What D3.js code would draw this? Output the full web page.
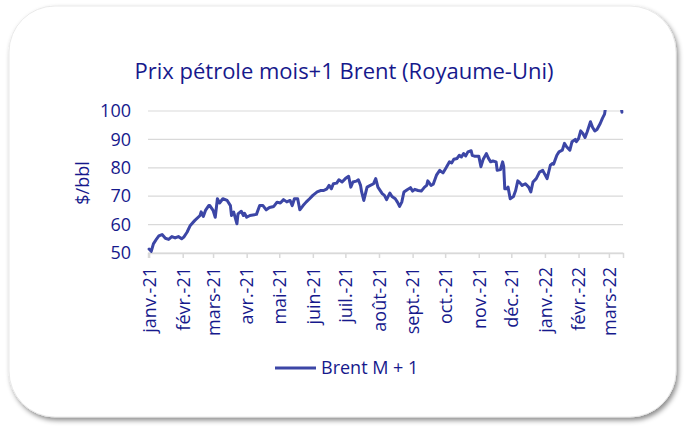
<!DOCTYPE html>
<html>
<head>
<meta charset="utf-8">
<script src="https://cdn.jsdelivr.net/npm/d3@7"></script>
<style>
  body { margin: 0; background: #fff; }
  svg { display: block; }
</style>
</head>
<body>
<div id="chart"></div>
<script>
// Brent M+1, daily-ish readings ($/bbl)
var dates = [
  "2021-01-04","2021-01-06","2021-01-08","2021-01-11","2021-01-13","2021-01-16","2021-01-19","2021-01-22",
  "2021-01-25","2021-01-28","2021-01-31","2021-02-03","2021-02-05","2021-02-08","2021-02-11","2021-02-15",
  "2021-02-20","2021-02-21","2021-02-23","2021-02-25","2021-02-28","2021-03-01","2021-03-04","2021-03-06",
  "2021-03-08","2021-03-10","2021-03-13","2021-03-17","2021-03-20","2021-03-21","2021-03-23","2021-03-26",
  "2021-03-27","2021-03-30","2021-04-01","2021-04-02","2021-04-04","2021-04-07","2021-04-13","2021-04-16",
  "2021-04-19","2021-04-22","2021-04-25","2021-04-29","2021-05-02","2021-05-05","2021-05-08","2021-05-11",
  "2021-05-14","2021-05-16","2021-05-18","2021-05-21","2021-05-23","2021-05-26","2021-05-29","2021-06-01",
  "2021-06-04","2021-06-08","2021-06-11","2021-06-14","2021-06-17","2021-06-19","2021-06-21","2021-06-23",
  "2021-06-26","2021-06-28","2021-07-01","2021-07-04","2021-07-07","2021-07-09","2021-07-11","2021-07-14",
  "2021-07-16","2021-07-18","2021-07-19","2021-07-21","2021-07-24","2021-07-27","2021-07-30","2021-08-01",
  "2021-08-03","2021-08-07","2021-08-09","2021-08-11","2021-08-14","2021-08-16","2021-08-19","2021-08-21",
  "2021-08-23","2021-08-25","2021-08-27","2021-08-30","2021-09-02","2021-09-04","2021-09-06","2021-09-09",
  "2021-09-12","2021-09-15","2021-09-17","2021-09-18","2021-09-21","2021-09-23","2021-09-26","2021-09-29",
  "2021-10-02","2021-10-05","2021-10-08","2021-10-10","2021-10-12","2021-10-15","2021-10-17","2021-10-19",
  "2021-10-21","2021-10-23","2021-10-25","2021-10-28","2021-10-29","2021-10-31","2021-11-04","2021-11-06",
  "2021-11-08","2021-11-11","2021-11-13","2021-11-15","2021-11-17","2021-11-20","2021-11-21","2021-11-24",
  "2021-11-26","2021-11-27","2021-11-28","2021-11-30","2021-12-01","2021-12-03","2021-12-06","2021-12-08",
  "2021-12-10","2021-12-12","2021-12-14","2021-12-17","2021-12-20","2021-12-22","2021-12-24","2021-12-27",
  "2021-12-30","2022-01-02","2022-01-06","2022-01-09","2022-01-11","2022-01-12","2022-01-15","2022-01-17",
  "2022-01-20","2022-01-22","2022-01-24","2022-01-27","2022-01-29","2022-02-01","2022-02-02","2022-02-04",
  "2022-02-06","2022-02-08","2022-02-10","2022-02-12","2022-02-15","2022-02-17","2022-02-19","2022-02-21",
  "2022-02-24","2022-02-26","2022-02-28","2022-03-02","2022-03-04","2022-03-07","2022-03-08","2022-03-10",
  "2022-03-11","2022-03-14","2022-03-16"
];
var brent = [
  51.4,50.6,53.2,55,56,56.5,55.2,54.8,
  55.8,55.3,55.8,55,55.6,57.3,59.7,61.4,
  63.2,64.5,62.9,65,66.7,66.7,65,62.6,
  69.1,67.6,69.1,68.5,66.7,63.2,64.4,60.3,
  63.8,64.7,63.2,64,62.6,63.2,63.6,66.7,
  66.7,65.2,66,66.4,67.9,67.6,68.8,68,
  68.5,66.7,69.1,69.1,65.2,66.7,68,69.1,
  70.3,71.5,72,72,72.6,73.8,72.6,74.4,
  74.6,75.8,75,76.2,77,73.2,75,75.3,
  75.8,73.8,71.5,68.5,73.2,73.8,74.4,76.2,
  73.2,70.9,70.3,68.8,71.1,69.9,69.1,67.9,
  66.4,67.9,71.5,72.3,73,71.8,72.4,72,
  71.8,73.2,73.8,75.4,73.8,74.2,77.4,79.1,
  78.2,80.1,82.1,81.7,83,83.3,84.4,83.8,
  85,84.2,85.6,86,84.4,84.1,84.1,80.4,
  82.9,85,83.3,82.1,82.4,82.1,79.1,79.4,
  82.1,80.4,72.6,72.6,73.2,69.1,69.9,72,
  75.4,74.7,73.8,74.4,73.2,71.5,75,76.2,
  78.5,79.1,76.2,80.9,81.5,81.3,84.4,85.6,
  86.2,88.6,87.4,86.2,89.2,90,89.2,90.3,
  93,92.1,90.7,92.7,96.2,94.2,93,93.5,
  95.6,97.4,98.9,104,112,124,128,110,
  112,106,99.6
];
var yTicks = [50, 60, 70, 80, 90, 100];
var monthLabels = ["janv.-21","févr.-21","mars-21","avr.-21","mai-21","juin-21","juil.-21","août-21",
                   "sept.-21","oct.-21","nov.-21","déc.-21","janv.-22","févr.-22","mars-22"];
var monthTicks = ["2021-01-04","2021-02-04","2021-03-04","2021-04-04","2021-05-04","2021-06-04","2021-07-04",
                  "2021-08-04","2021-09-04","2021-10-04","2021-11-04","2021-12-04","2022-01-04","2022-02-04","2022-03-04"];

var W = 687, H = 432;
var navy = "#16198c", lineCol = "#3c46a6", grid = "#d9d9d9";
var font = "'Open Sans', sans-serif";
var parse = d3.utcParse("%Y-%m-%d");

var svg = d3.select("#chart").append("svg")
    .attr("width", W)
    .attr("height", H);

var defs = svg.append("defs");
var f = defs.append("filter").attr("id", "shadow")
    .attr("x", "-5%").attr("y", "-5%").attr("width", "110%").attr("height", "110%");
f.append("feDropShadow")
    .attr("dx", 2).attr("dy", 3)
    .attr("stdDeviation", 2.5)
    .attr("flood-color", "#000")
    .attr("flood-opacity", 0.45);

svg.append("rect")
    .attr("x", 9).attr("y", 6)
    .attr("width", 667).attr("height", 411)
    .attr("rx", 46).attr("ry", 46)
    .attr("fill", "#fff")
    .attr("stroke", "#e4e4e4")
    .attr("stroke-width", 0.8)
    .attr("filter", "url(#shadow)");

var x = d3.scaleUtc()
    .domain([parse("2021-01-03"), parse("2022-03-17")])
    .range([148, 623]);
var y = d3.scaleLinear()
    .domain([50, 100])
    .range([253, 111]);

// gridlines
svg.append("g").selectAll("line")
    .data(yTicks).enter()
    .append("line")
    .attr("x1", 148).attr("x2", 623)
    .attr("y1", function(d) { return y(d); })
    .attr("y2", function(d) { return y(d); })
    .attr("stroke", grid)
    .attr("stroke-width", 1.2);

// y axis labels
var yAxis = svg.append("g")
    .attr("transform", "translate(148,0)")
    .call(d3.axisLeft(y).tickValues(yTicks).tickSize(0).tickPadding(17));
yAxis.select(".domain").remove();
yAxis.selectAll("text")
    .attr("fill", navy)
    .attr("font-family", font)
    .attr("font-size", "18px");

// x axis
var xAxis = svg.append("g")
    .attr("transform", "translate(0," + y(50) + ")")
    .call(d3.axisBottom(x)
        .tickValues(monthTicks.map(parse))
        .tickSize(5)
        .tickFormat(function(d, i) { return monthLabels[i]; }));
xAxis.select(".domain").attr("stroke", grid).attr("stroke-width", 1.5);
xAxis.selectAll(".tick line").attr("stroke", grid).attr("stroke-width", 1.5);
xAxis.selectAll("text")
    .attr("fill", navy)
    .attr("font-family", font)
    .attr("font-size", "18px")
    .attr("text-anchor", "end")
    .attr("transform", "rotate(-90)")
    .attr("x", -14)
    .attr("y", 0)
    .attr("dy", "0.35em");

// series
defs.append("clipPath").attr("id", "plot")
    .append("rect")
    .attr("x", 140).attr("y", y(100) - 1)
    .attr("width", 486).attr("height", 160);

var series = dates.map(function(d, i) { return {date: parse(d), v: brent[i]}; });
var line = d3.line()
    .x(function(d) { return x(d.date); })
    .y(function(d) { return y(d.v); });

svg.append("path")
    .datum(series)
    .attr("clip-path", "url(#plot)")
    .attr("fill", "none")
    .attr("stroke", lineCol)
    .attr("stroke-width", 3)
    .attr("stroke-linejoin", "round")
    .attr("stroke-linecap", "round")
    .attr("d", line);

// title
svg.append("text")
    .attr("x", 344).attr("y", 79)
    .attr("text-anchor", "middle")
    .attr("fill", navy)
    .attr("font-family", font)
    .attr("font-size", "22px")
    .text("Prix pétrole mois+1 Brent (Royaume-Uni)");

// y axis title
svg.append("text")
    .attr("transform", "translate(89,183) rotate(-90)")
    .attr("text-anchor", "middle")
    .attr("fill", navy)
    .attr("font-family", font)
    .attr("font-size", "18px")
    .text("$/bbl");

// legend
svg.append("line")
    .attr("x1", 275).attr("x2", 316)
    .attr("y1", 368).attr("y2", 368)
    .attr("stroke", lineCol)
    .attr("stroke-width", 3);
svg.append("text")
    .attr("x", 321).attr("y", 374)
    .attr("fill", navy)
    .attr("font-family", font)
    .attr("font-size", "18px")
    .text("Brent M + 1");
</script>
</body>
</html>
